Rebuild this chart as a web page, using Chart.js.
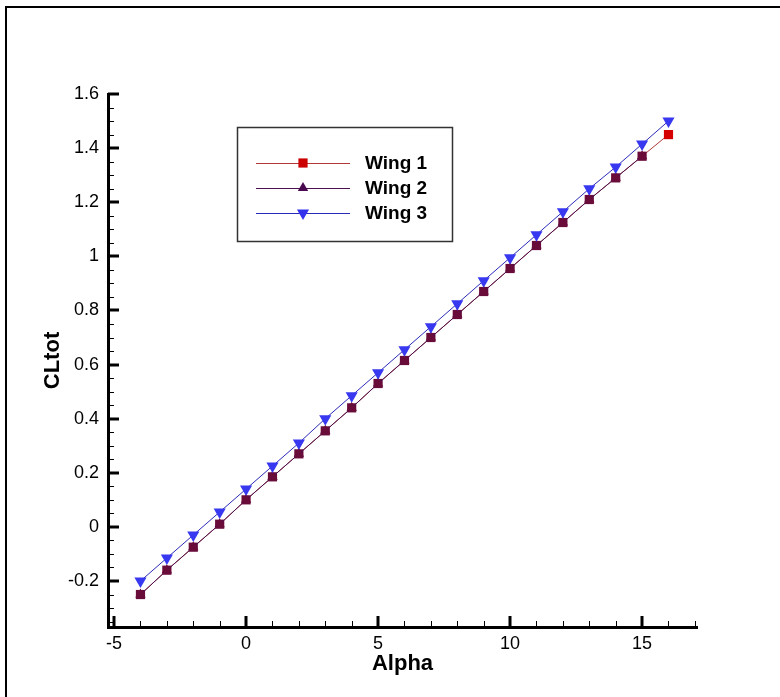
<!DOCTYPE html>
<html>
<head>
<meta charset="utf-8">
<script src="https://cdn.jsdelivr.net/npm/chart.js@4/dist/chart.umd.min.js"></script>
<style>
  html, body { margin: 0; padding: 0; background: #fff; }
  canvas { display: block; }
</style>
</head>
<body>
<canvas id="canvas" width="780" height="697"></canvas>
<script>
// angle of attack
const alpha = [-4, -3, -2, -1, 0, 1, 2, 3, 4, 5, 6, 7, 8, 9, 10, 11, 12, 13, 14, 15, 16];

const wing1 = [-0.25, -0.16, -0.075, 0.01, 0.10, 0.185, 0.27, 0.355, 0.44, 0.53, 0.615,
               0.70, 0.785, 0.87, 0.955, 1.04, 1.125, 1.21, 1.29, 1.37, 1.45];
const wing2 = [-0.25, -0.16, -0.075, 0.01, 0.10, 0.185, 0.27, 0.355, 0.44, 0.53, 0.615,
               0.70, 0.785, 0.87, 0.955, 1.04, 1.125, 1.21, 1.29, 1.37, null];
const wing3 = [-0.20, -0.115, -0.03, 0.055, 0.14, 0.225, 0.31, 0.40, 0.485, 0.57, 0.655,
               0.74, 0.825, 0.91, 0.995, 1.08, 1.165, 1.25, 1.33, 1.415, 1.50];

const xTicks = [-5, 0, 5, 10, 15];
const yTicks = [-0.2, 0, 0.2, 0.4, 0.6, 0.8, 1, 1.2, 1.4, 1.6];
const xMinorStep = 1;
const yMinorStep = 0.05;

const FONT = "'Liberation Sans', Arial, sans-serif";

function pts(ys) {
  return alpha.map((a, i) => ({x: a, y: ys[i]}));
}

// plot frame + inward tick marks
const frameTicks = {
  id: 'frameTicks',
  beforeDraw(chart) {
    const ctx = chart.ctx;
    ctx.save();
    ctx.strokeStyle = '#000';
    ctx.lineWidth = 2;
    ctx.beginPath();
    ctx.moveTo(6, 697);
    ctx.lineTo(6, 7);
    ctx.lineTo(780, 7);
    ctx.stroke();
    ctx.restore();
  },
  afterDraw(chart) {
    const ctx = chart.ctx;
    const xs = chart.scales.x, ys = chart.scales.y;
    const a = chart.chartArea;
    ctx.save();
    ctx.strokeStyle = '#000';
    // x minor
    ctx.lineWidth = 1;
    for (let v = Math.ceil(xs.min); v <= xs.max; v += xMinorStep) {
      if (xTicks.includes(v)) continue;
      const px = Math.round(xs.getPixelForValue(v)) + 0.5;
      ctx.beginPath(); ctx.moveTo(px, a.bottom); ctx.lineTo(px, a.bottom - 6); ctx.stroke();
    }
    for (let k = Math.ceil(ys.min / yMinorStep); k * yMinorStep <= ys.max + 1e-9; k++) {
      const v = k * yMinorStep;
      if (yTicks.some(t => Math.abs(t - v) < 1e-6)) continue;
      const py = Math.round(ys.getPixelForValue(v)) + 0.5;
      ctx.beginPath(); ctx.moveTo(a.left, py); ctx.lineTo(a.left + 6, py); ctx.stroke();
    }
    // major
    ctx.lineWidth = 3;
    xTicks.forEach(v => {
      const px = Math.round(xs.getPixelForValue(v));
      ctx.beginPath(); ctx.moveTo(px, a.bottom); ctx.lineTo(px, a.bottom - 11); ctx.stroke();
    });
    yTicks.forEach(v => {
      const py = Math.round(ys.getPixelForValue(v));
      ctx.beginPath(); ctx.moveTo(a.left, py); ctx.lineTo(a.left + 11, py); ctx.stroke();
    });
    ctx.restore();
  }
};

// boxed legend with line + symbol samples
const boxLegend = {
  id: 'boxLegend',
  afterDraw(chart) {
    const ctx = chart.ctx;
    ctx.save();
    ctx.fillStyle = '#fff';
    ctx.fillRect(237, 127, 215, 114);
    ctx.strokeStyle = '#333';
    ctx.lineWidth = 1.5;
    ctx.strokeRect(237.5, 127.5, 215, 114);
    const rows = [163, 188, 213];
    chart.data.datasets.forEach((ds, i) => {
      const y = rows[i];
      ctx.strokeStyle = ds.borderColor;
      ctx.lineWidth = 1;
      ctx.beginPath(); ctx.moveTo(256, y + 0.5); ctx.lineTo(350, y + 0.5); ctx.stroke();
      ctx.fillStyle = ds.legendColor;
      ctx.strokeStyle = ds.legendColor;
      Chart.helpers.drawPoint(ctx, {
        pointStyle: ds.pointStyle, rotation: ds.pointRotation || 0,
        radius: ds.pointRadius, borderWidth: 0
      }, 303, y);
      ctx.fillStyle = '#000';
      ctx.font = 'bold 19px ' + FONT;
      ctx.textBaseline = 'middle';
      ctx.textAlign = 'left';
      ctx.fillText(ds.label, 365, y + 1);
    });
    ctx.restore();
  }
};

new Chart(document.getElementById('canvas').getContext('2d'), {
  type: 'line',
  data: {
    datasets: [
      {
        label: 'Wing 1',
        data: pts(wing1),
        borderColor: '#b03838',
        borderWidth: 1,
        pointStyle: 'rect',
        pointRadius: 6.5,
        legendColor: '#cc0000',
        pointBackgroundColor: ctx => wing2[ctx.dataIndex] == null ? '#d50000' : '#6a0c3a',
        pointBorderWidth: 0,
        order: 2
      },
      {
        label: 'Wing 2',
        data: pts(wing2),
        borderColor: '#4a1050',
        borderWidth: 1,
        pointStyle: 'triangle',
        pointRadius: 6,
        legendColor: '#4a0a50',
        pointBackgroundColor: '#6a0c3a',
        pointBorderWidth: 0,
        order: 1
      },
      {
        label: 'Wing 3',
        data: pts(wing3),
        borderColor: '#2a2ab8',
        borderWidth: 1,
        pointStyle: 'triangle',
        pointRotation: 180,
        pointRadius: 7,
        legendColor: '#3333ee',
        pointBackgroundColor: '#3838f0',
        pointBorderWidth: 0,
        order: 0
      }
    ]
  },
  options: {
    responsive: false,
    animation: false,
    spanGaps: false,
    layout: { padding: { left: 0, top: 94, right: 83, bottom: 0 } },
    plugins: { legend: { display: false }, tooltip: { enabled: false } },
    scales: {
      x: {
        type: 'linear',
        min: -5.23,
        max: 17.08,
        afterFit: s => { s.height = 70; },
        afterBuildTicks: s => { s.ticks = xTicks.map(v => ({value: v})); },
        grid: { display: false, drawTicks: false },
        border: { display: true, color: '#000', width: 3 },
        ticks: { color: '#000', padding: 6, font: { family: FONT, size: 18 }, maxRotation: 0 },
        title: { display: true, text: 'Alpha', color: '#000', padding: { top: 0, bottom: 20 },
                 font: { family: FONT, size: 22, weight: 'bold' } }
      },
      y: {
        type: 'linear',
        min: -0.37,
        max: 1.6,
        afterFit: s => { s.width = 108; },
        afterBuildTicks: s => { s.ticks = yTicks.map(v => ({value: v})); },
        grid: { display: false, drawTicks: false },
        border: { display: true, color: '#000', width: 3 },
        ticks: { color: '#000', padding: 9, font: { family: FONT, size: 18 },
                 callback: v => String(Math.round(v * 10) / 10) },
        title: { display: true, text: 'CLtot', color: '#000', padding: { top: 40, bottom: 0 },
                 font: { family: FONT, size: 22, weight: 'bold' } }
      }
    }
  },
  plugins: [frameTicks, boxLegend]
});
</script>
</body>
</html>
